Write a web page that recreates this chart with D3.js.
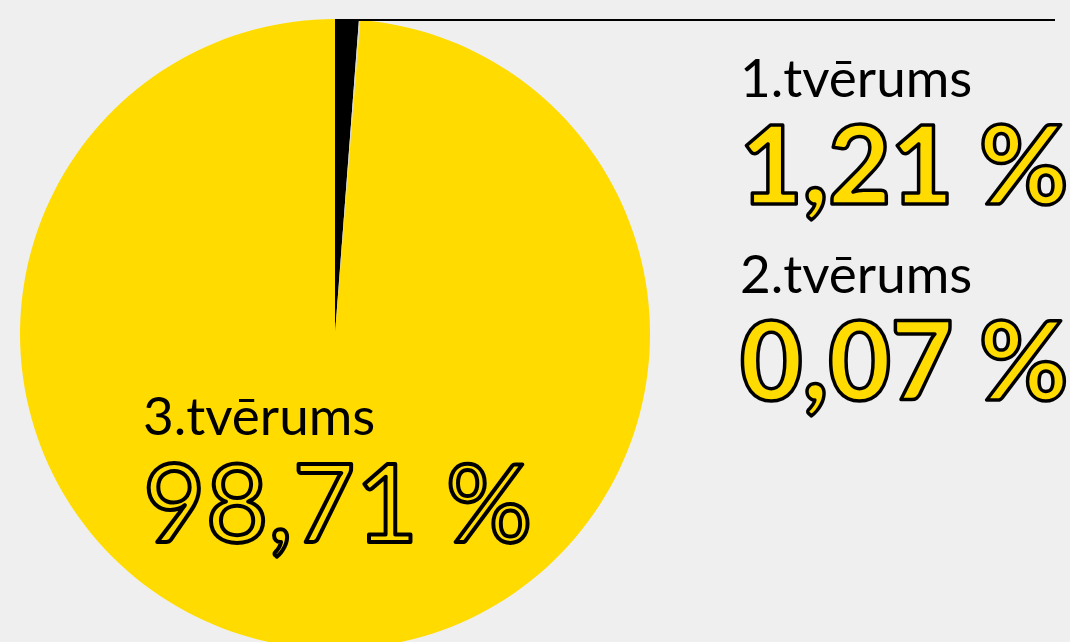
<!DOCTYPE html>
<html>
<head>
<meta charset="utf-8">
<script src="https://cdn.jsdelivr.net/npm/d3@7"></script>
<style>
  html, body { margin: 0; padding: 0; background: #efefef; }
  svg { display: block; }
</style>
</head>
<body>
<div id="chart"></div>
<script>
// Share of samples by round
const labels = ['1.tvērums', '2.tvērums', '3.tvērums'];
const values = [1.21, 0.07, 98.71];
const valueText = ['1,21 %', '0,07 %', '98,71 %'];
const colors = ['#000000', '#d8d8d8', '#ffdb00'];

const width = 1070;
const height = 642;
const yellow = '#ffdb00';

const svg = d3.select('#chart')
  .append('svg')
  .attr('width', width)
  .attr('height', height);

svg.append('rect')
  .attr('width', width)
  .attr('height', height)
  .attr('fill', '#efefef');

const cx = 335, cy = 334, r = 315;

const pie = d3.pie().sort(null).value(d => d)(values);
const arc = d3.arc().innerRadius(0).outerRadius(r);

const g = svg.append('g').attr('transform', `translate(${cx},${cy})`);
g.selectAll('path')
  .data(pie)
  .join('path')
  .attr('d', arc)
  .attr('fill', (d, i) => colors[i]);

// Leader line from the top of the pie
svg.append('line')
  .attr('x1', cx)
  .attr('x2', 1055)
  .attr('y1', cy - r + 1)
  .attr('y2', cy - r + 1)
  .attr('stroke', '#000')
  .attr('stroke-width', 2);

// Labels
const labelPos = [
  { x: 740, y: 97, vy: 204, weight: 900, sw: 3.5 },
  { x: 740, y: 293, vy: 400, weight: 900, sw: 3.5 },
  { x: 143, y: 435, vy: 542, weight: 400, sw: 4 }
];

labels.forEach((lab, i) => {
  const p = labelPos[i];
  svg.append('text')
    .attr('x', p.x)
    .attr('y', p.y)
    .attr('font-family', 'Lato, sans-serif')
    .attr('font-size', 53)
    .attr('fill', '#000')
    .text(lab);
  svg.append('text')
    .attr('x', p.x)
    .attr('y', p.vy)
    .attr('font-family', 'Lato, sans-serif')
    .attr('font-size', 108)
    .attr('font-weight', p.weight)
    .attr('fill', yellow)
    .attr('stroke', '#000')
    .attr('stroke-width', p.sw)
    .attr('stroke-linejoin', 'round')
    .text(valueText[i]);
});
</script>
</body>
</html>
